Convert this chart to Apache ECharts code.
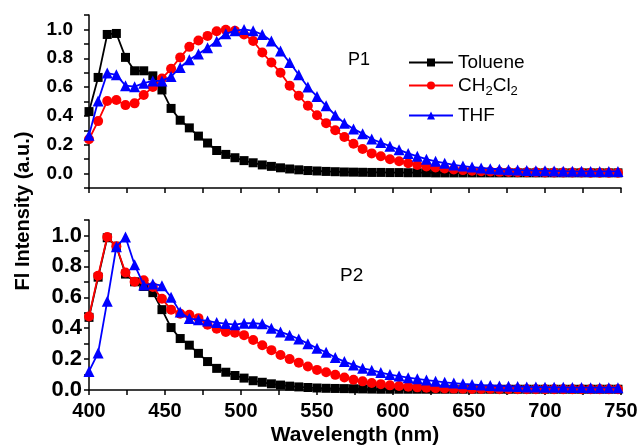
<!DOCTYPE html>
<html>
<head>
<meta charset="utf-8">
<script src="https://cdn.jsdelivr.net/npm/echarts@6/dist/echarts.min.js"></script>
<style>
  html, body { margin: 0; padding: 0; background: #fff; }
  #chart { width: 641px; height: 447px; }
</style>
</head>
<body>
<div id="chart"></div>
<script>
// Emission wavelengths (nm)
const wavelength = [400, 406, 412, 418, 424, 430, 436, 442, 448, 454, 460, 466, 472, 478, 484, 490, 496, 502, 508, 514,
  520, 526, 532, 538, 544, 550, 556, 562, 568, 574, 580, 586, 592, 598, 604, 610, 616, 622, 628, 634,
  640, 646, 652, 658, 664, 670, 676, 682, 688, 694, 700, 706, 712, 718, 724, 730, 736, 742, 748];

// P1 normalised fluorescence
const p1Toluene = [0.43, 0.667, 0.965, 0.972, 0.806, 0.713, 0.713, 0.678, 0.58, 0.452, 0.37, 0.317, 0.26, 0.212, 0.16, 0.133, 0.11, 0.09, 0.075, 0.06,
  0.05, 0.04, 0.032, 0.026, 0.021, 0.018, 0.015, 0.013, 0.011, 0.01, 0.009, 0.008, 0.008, 0.007, 0.007, 0.006, 0.006, 0.006, 0.005, 0.005,
  0.005, 0.005, 0.005, 0.005, 0.005, 0.005, 0.005, 0.005, 0.005, 0.005, 0.005, 0.005, 0.005, 0.005, 0.005, 0.005, 0.005, 0.005, 0.005];
const p1CH2Cl2 = [0.238, 0.364, 0.503, 0.51, 0.475, 0.487, 0.545, 0.6, 0.66, 0.727, 0.806, 0.879, 0.923, 0.955, 0.987, 0.997, 0.99, 0.965, 0.92, 0.84,
  0.77, 0.7, 0.61, 0.54, 0.47, 0.405, 0.35, 0.3, 0.254, 0.207, 0.17, 0.14, 0.12, 0.1, 0.085, 0.072, 0.06, 0.05, 0.042, 0.035,
  0.029, 0.024, 0.02, 0.017, 0.014, 0.012, 0.011, 0.01, 0.009, 0.009, 0.008, 0.008, 0.007, 0.007, 0.007, 0.006, 0.006, 0.006, 0.006];
const p1THF = [0.266, 0.503, 0.697, 0.685, 0.61, 0.603, 0.627, 0.643, 0.643, 0.673, 0.736, 0.79, 0.83, 0.872, 0.918, 0.97, 0.99, 1.0, 0.99, 0.965,
  0.92, 0.85, 0.77, 0.685, 0.6, 0.535, 0.47, 0.405, 0.35, 0.31, 0.277, 0.24, 0.215, 0.19, 0.165, 0.14, 0.12, 0.1, 0.085, 0.072,
  0.06, 0.052, 0.045, 0.039, 0.034, 0.03, 0.027, 0.024, 0.022, 0.02, 0.019, 0.018, 0.017, 0.016, 0.016, 0.015, 0.015, 0.015, 0.015];

// P2 normalised fluorescence
const p2Toluene = [0.47, 0.73, 0.985, 0.93, 0.75, 0.7, 0.67, 0.63, 0.52, 0.404, 0.333, 0.29, 0.237, 0.184, 0.14, 0.115, 0.094, 0.077, 0.06, 0.05,
  0.04, 0.032, 0.025, 0.02, 0.016, 0.013, 0.011, 0.01, 0.009, 0.008, 0.007, 0.006, 0.005, 0.005, 0.005, 0.005, 0.005, 0.005, 0.005, 0.005,
  0.005, 0.005, 0.005, 0.005, 0.005, 0.005, 0.005, 0.005, 0.005, 0.005, 0.005, 0.005, 0.005, 0.005, 0.005, 0.005, 0.005, 0.005, 0.005];
const p2CH2Cl2 = [0.476, 0.74, 0.99, 0.93, 0.76, 0.7, 0.71, 0.667, 0.59, 0.52, 0.494, 0.487, 0.465, 0.423, 0.397, 0.376, 0.37, 0.355, 0.323, 0.29,
  0.258, 0.226, 0.2, 0.177, 0.152, 0.13, 0.115, 0.098, 0.081, 0.066, 0.056, 0.045, 0.038, 0.03, 0.026, 0.021, 0.017, 0.014, 0.012, 0.01,
  0.009, 0.008, 0.007, 0.007, 0.006, 0.005, 0.005, 0.005, 0.005, 0.005, 0.005, 0.005, 0.005, 0.005, 0.005, 0.005, 0.005, 0.005, 0.005];
const p2THF = [0.12, 0.24, 0.575, 0.927, 0.99, 0.81, 0.68, 0.686, 0.675, 0.6, 0.504, 0.462, 0.455, 0.447, 0.436, 0.43, 0.423, 0.432, 0.432, 0.428,
  0.4, 0.376, 0.355, 0.33, 0.3, 0.27, 0.244, 0.21, 0.184, 0.162, 0.14, 0.128, 0.113, 0.1, 0.09, 0.08, 0.072, 0.064, 0.057, 0.05,
  0.045, 0.04, 0.036, 0.032, 0.029, 0.026, 0.024, 0.022, 0.02, 0.019, 0.018, 0.017, 0.017, 0.016, 0.016, 0.015, 0.015, 0.015, 0.015];

const solvents = ['Toluene', 'CH2Cl2', 'THF'];
const colors = ['#000000', '#ff0000', '#0000ff'];
const symbols = ['rect', 'circle', 'triangle'];
const symbolSizes = [9, 10, 11];

const FONT = 'Liberation Sans, Arial, sans-serif';

function pairs(ys) {
  return wavelength.map((x, i) => [x, ys[i]]);
}

function makeSeries(values, gridIdx) {
  return values.map((ys, k) => ({
    name: solvents[k],
    type: 'line',
    xAxisIndex: gridIdx,
    yAxisIndex: gridIdx,
    data: pairs(ys),
    symbol: symbols[k],
    symbolSize: symbolSizes[k],
    showAllSymbol: true,
    color: colors[k],
    lineStyle: { width: 1.8, color: colors[k] },
    itemStyle: { color: colors[k] },
    animation: false,
    z: 2 + k
  }));
}

function evenLabel(v) {
  const k = Math.round(v * 10);
  return (k >= 0 && k <= 10 && k % 2 === 0) ? (k / 10).toFixed(1) : '';
}

function xAxisCfg(gridIndex, showLabels) {
  return {
    type: 'value', gridIndex, min: 400, max: 750, interval: 50,
    axisLine: { onZero: false, lineStyle: { color: '#000', width: 1.5 } },
    axisTick: { show: true, inside: false, length: 5, lineStyle: { color: '#000', width: 1.5 } },
    minorTick: { show: true, splitNumber: 2, length: 5, lineStyle: { color: '#000', width: 1.5 } },
    splitLine: { show: false },
    axisLabel: { show: showLabels, color: '#000', fontFamily: FONT, fontWeight: 'bold', fontSize: 20, margin: 11 },
    name: showLabels ? 'Wavelength (nm)' : '',
    nameLocation: 'middle', nameGap: 35,
    nameTextStyle: { color: '#000', fontFamily: FONT, fontWeight: 'bold', fontSize: 21 }
  };
}

function yAxisCfg(gridIndex, min, fontSize, margin) {
  return {
    type: 'value', gridIndex, min, max: 1.1, interval: 0.1,
    axisLine: { onZero: false, lineStyle: { color: '#000', width: 1.5 } },
    axisTick: { show: true, inside: false, length: 5, lineStyle: { color: '#000', width: 1.5 } },
    splitLine: { show: false },
    axisLabel: { color: '#000', fontFamily: FONT, fontWeight: 'bold', fontSize, margin, formatter: evenLabel, showMinLabel: true, showMaxLabel: true }
  };
}

const legendRich = {
  n: { fontSize: 19, fontFamily: FONT, color: '#000' },
  s: { fontSize: 13, fontFamily: FONT, color: '#000', verticalAlign: 'bottom', padding: [11, 0, 0, 0] }
};

function legendCfg(name, top) {
  return {
    data: [name], left: 408, top, orient: 'vertical', padding: 0,
    itemWidth: 44, itemHeight: 10, itemGap: 0,
    textStyle: { fontFamily: FONT, fontSize: 19, color: '#000', rich: legendRich },
    formatter: n => n === 'CH2Cl2' ? '{n|CH}{s|2}{n|Cl}{s|2}' : '{n|' + n + '}'
  };
}

const chart = echarts.init(document.getElementById('chart'), null, { renderer: 'canvas' });
chart.setOption({
  backgroundColor: '#ffffff',
  animation: false,
  grid: [
    { left: 89, top: 15, width: 532, height: 173 },
    { left: 89, top: 220, width: 532, height: 172 }
  ],
  xAxis: [xAxisCfg(0, false), xAxisCfg(1, true)],
  yAxis: [yAxisCfg(0, -0.1, 19, 16), yAxisCfg(1, 0, 22, 7)],
  legend: [legendCfg('Toluene', 53), legendCfg('CH2Cl2', 76), legendCfg('THF', 106)],
  graphic: [
    { type: 'text', left: 348, top: 51, style: { text: 'P1', fontFamily: FONT, fontSize: 18, fill: '#000' } },
    { type: 'text', left: 340, top: 266, style: { text: 'P2', fontFamily: FONT, fontSize: 19, fill: '#000' } },
    { type: 'text', x: 23, y: 211, rotation: Math.PI / 2,
      style: { text: 'Fl Intensity (a.u.)', fontFamily: FONT, fontWeight: 'bold', fontSize: 20, fill: '#000', align: 'center', verticalAlign: 'middle' } }
  ],
  series: [
    ...makeSeries([p1Toluene, p1CH2Cl2, p1THF], 0),
    ...makeSeries([p2Toluene, p2CH2Cl2, p2THF], 1)
  ]
});
</script>
</body>
</html>
